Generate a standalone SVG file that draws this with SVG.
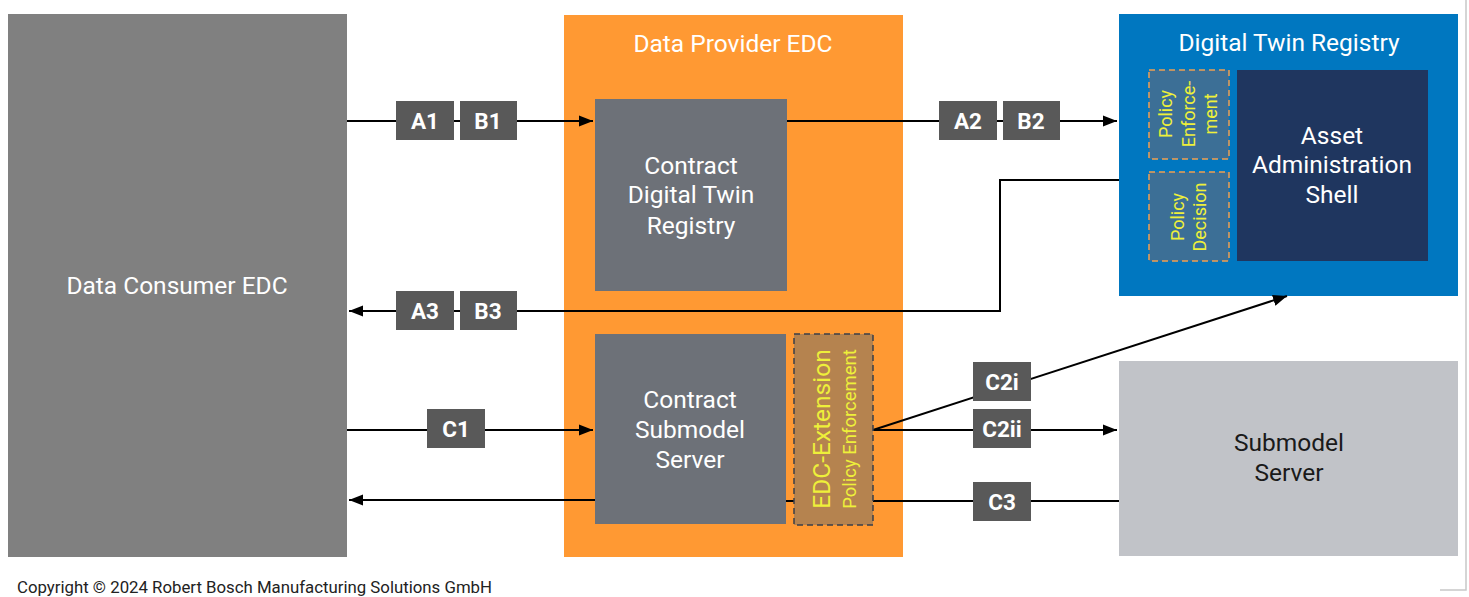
<svg xmlns="http://www.w3.org/2000/svg" width="1469" height="597" viewBox="0 0 1469 597">
<defs>
<style>
.t{font-family:Roboto,"Liberation Sans",Arial,sans-serif;text-anchor:middle}
.w{fill:#ffffff}
.lbl rect{fill:#595959}
.lbl text{font-family:Roboto,"Liberation Sans",Arial,sans-serif;font-weight:bold;font-size:22.5px;fill:#ffffff;text-anchor:middle}
.ln{stroke:#000000;stroke-width:2;fill:none}
.y{fill:#eef03a}
</style>
<marker id="ah2" viewBox="0 0 10 10" refX="10" refY="5" markerWidth="14" markerHeight="14" markerUnits="userSpaceOnUse" orient="auto">
<path d="M0,1 L10,5 L0,9 z" fill="#000"/>
</marker>
</defs>
<rect width="1469" height="597" fill="#ffffff"/>
<path d="M1466,0 V590 H1440" stroke="#c8c8c8" stroke-width="1.5" fill="none"/>

<g id="consumer">
<rect x="8" y="14" width="339" height="543" fill="#808080"/>
<text class="t w" x="177" y="294" font-size="24.5">Data Consumer EDC</text>
</g>

<g id="provider">
<rect x="564" y="15" width="339" height="542" fill="#ff9933"/>
<text class="t w" x="733" y="52" font-size="24.5">Data Provider EDC</text>
</g>

<g id="dtr">
<rect x="1119" y="14" width="339" height="282" fill="#0077c0"/>
<text class="t w" x="1289" y="51" font-size="24.5">Digital Twin Registry</text>
</g>

<g id="submodel-server">
<rect x="1119" y="361" width="339" height="195" fill="#c1c3c8"/>
<text class="t" x="1289" y="451" font-size="24.5" fill="#1a1a1a">Submodel</text>
<text class="t" x="1289" y="481" font-size="24.5" fill="#1a1a1a">Server</text>
</g>

<g id="connectors">
<path class="ln" d="M347,121 H593" marker-end="url(#ah2)"/>
<path class="ln" d="M787,121 H1117" marker-end="url(#ah2)"/>
<path class="ln" d="M1119,180 H1000 V311 H349" marker-end="url(#ah2)"/>
<path class="ln" d="M347,430 H593" marker-end="url(#ah2)"/>
<path class="ln" d="M873,430 L1287,296" marker-end="url(#ah2)"/>
<path class="ln" d="M873,430 H1117" marker-end="url(#ah2)"/>
<path class="ln" d="M1119,501 H786"/>
<path class="ln" d="M595,500 H349" marker-end="url(#ah2)"/>
</g>

<g id="contract-dtr">
<rect x="595" y="99" width="192" height="192" fill="#6d7178"/>
<text class="t w" x="691" y="174" font-size="24.5">Contract</text>
<text class="t w" x="691" y="203" font-size="24.5">Digital Twin</text>
<text class="t w" x="691" y="234" font-size="24.5">Registry</text>
</g>

<g id="contract-submodel">
<rect x="595" y="334" width="191" height="190" fill="#6d7178"/>
<text class="t w" x="690" y="408" font-size="24.5">Contract</text>
<text class="t w" x="690" y="438" font-size="24.5">Submodel</text>
<text class="t w" x="690" y="468" font-size="24.5">Server</text>
</g>

<g id="edc-extension">
<rect x="794" y="334" width="79" height="191" fill="#b5834f" stroke="#3a3f4a" stroke-width="1.5" stroke-dasharray="6,4"/>
<text class="t y" transform="translate(830,429) rotate(-90)" font-size="24.5">EDC-Extension</text>
<text class="t y" transform="translate(856,429) rotate(-90)" font-size="18.5">Policy Enforcement</text>
</g>

<g id="policy-enforcement">
<rect x="1149" y="70" width="80" height="89" fill="#3c6f96" stroke="#f0a050" stroke-width="1.5" stroke-dasharray="6,4"/>
<text class="t y" transform="translate(1172,114) rotate(-90)" font-size="18">Policy</text>
<text class="t y" transform="translate(1195,114) rotate(-90)" font-size="18">Enforce-</text>
<text class="t y" transform="translate(1217,114) rotate(-90)" font-size="18">ment</text>
</g>

<g id="policy-decision">
<rect x="1149" y="172" width="80" height="89" fill="#3c6f96" stroke="#f0a050" stroke-width="1.5" stroke-dasharray="6,4"/>
<text class="t y" transform="translate(1184,217) rotate(-90)" font-size="18">Policy</text>
<text class="t y" transform="translate(1206,217) rotate(-90)" font-size="18">Decision</text>
</g>

<g id="aas">
<rect x="1237" y="70" width="191" height="191" fill="#1f365f"/>
<text class="t w" x="1332" y="144" font-size="24.5">Asset</text>
<text class="t w" x="1332" y="173" font-size="24.5">Administration</text>
<text class="t w" x="1332" y="203" font-size="24.5">Shell</text>
</g>

<g id="labels" class="lbl">
<rect x="396" y="101" width="58" height="39"/><text x="425" y="129">A1</text>
<rect x="460" y="101" width="57" height="39"/><text x="488" y="129">B1</text>
<rect x="939" y="101" width="58" height="39"/><text x="968" y="129">A2</text>
<rect x="1003" y="101" width="57" height="39"/><text x="1031" y="129">B2</text>
<rect x="396" y="291" width="58" height="39"/><text x="425" y="319">A3</text>
<rect x="460" y="291" width="57" height="39"/><text x="488" y="319">B3</text>
<rect x="427" y="409" width="58" height="39"/><text x="456" y="437">C1</text>
<rect x="973" y="362" width="58" height="39"/><text x="1002" y="390">C2i</text>
<rect x="973" y="409" width="58" height="39"/><text x="1002" y="437">C2ii</text>
<rect x="973" y="482" width="58" height="39"/><text x="1002" y="510">C3</text>
</g>

<text x="17" y="593" font-family="Roboto,'Liberation Sans',Arial,sans-serif" font-size="16.8" fill="#222222">Copyright © 2024 Robert Bosch Manufacturing Solutions GmbH</text>
</svg>
